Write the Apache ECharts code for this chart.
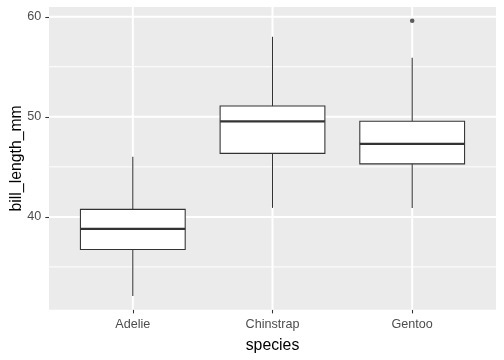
<!DOCTYPE html>
<html>
<head>
<meta charset="utf-8">
<script src="https://cdn.jsdelivr.net/npm/echarts@6/dist/echarts.min.js"></script>
<style>html,body{margin:0;padding:0;background:#fff;}#c{width:504px;height:360px;}</style>
</head>
<body>
<div id="c"></div>
<script>
// Data
const categories = ['Adelie', 'Chinstrap', 'Gentoo'];
const lowerWhisker = [32.1, 40.9, 40.9];
const q1 = [36.75, 46.35, 45.3];
const median = [38.8, 49.55, 47.3];
const q3 = [40.75, 51.075, 49.55];
const upperWhisker = [46.0, 58.0, 55.9];
const outlierSpecies = ['Gentoo'];
const outlierValues = [59.6];
const yMajorTicks = [40, 50, 60];
const yMinorTicks = [35, 45, 55];

const FONT = 'Liberation Sans, Arial, sans-serif';
const INK = '#333333';

const xPos = categories.map((c, i) => i + 1);
const boxData = categories.map((c, i) => [xPos[i], lowerWhisker[i], q1[i], median[i], q3[i], upperWhisker[i]]);
const outlierData = outlierSpecies.map((s, i) => [categories.indexOf(s) + 1, outlierValues[i]]);

const gridLineData = [];
yMinorTicks.forEach(v => gridLineData.push(['y', v, 1]));
yMajorTicks.forEach(v => gridLineData.push(['y', v, 2]));
xPos.forEach(v => gridLineData.push(['x', v, 2]));

const chart = echarts.init(document.getElementById('c'), null, {renderer: 'canvas'});
chart.setOption({
  animation: false,
  backgroundColor: '#ffffff',
  grid: {left: 49, top: 7, right: 8, bottom: 50.3, show: true, backgroundColor: '#EBEBEB', borderWidth: 0,
    containLabel: false, outerBoundsMode: 'none'},
  xAxis: {
    type: 'value', min: 0.4, max: 3.6,
    name: 'species', nameLocation: 'middle', nameGap: 28, nameMoveOverlap: false,
    nameTextStyle: {color: '#000', fontSize: 15.8, fontFamily: FONT},
    axisLine: {show: false},
    axisTick: {show: true, customValues: xPos, length: 3.7, lineStyle: {color: INK, width: 1.07}},
    axisLabel: {customValues: xPos, color: '#4D4D4D', fontSize: 12.6, fontFamily: FONT, margin: 8.5,
      formatter: v => categories[Math.round(v) - 1] || ''},
    splitLine: {show: false}
  },
  yAxis: {
    type: 'value', min: 30.725, max: 60.975,
    name: 'bill_length_mm', nameLocation: 'middle', nameGap: 24.5, nameMoveOverlap: false,
    nameTextStyle: {color: '#000', fontSize: 15.8, fontFamily: FONT},
    axisLine: {show: false},
    axisTick: {show: true, customValues: yMajorTicks, length: 3.7, lineStyle: {color: INK, width: 1.07}},
    axisLabel: {customValues: yMajorTicks, color: '#4D4D4D', fontSize: 12.6, fontFamily: FONT, margin: 7.7},
    splitLine: {show: false}
  },
  series: [
    {
      type: 'custom', z: 1, silent: true,
      data: gridLineData,
      encode: {x: -1, y: -1},
      renderItem: function (params, api) {
        const d = gridLineData[params.dataIndex];
        const cs = params.coordSys;
        let shape;
        if (d[0] === 'y') {
          const p = api.coord([1, d[1]]);
          shape = {x1: cs.x, y1: p[1], x2: cs.x + cs.width, y2: p[1]};
        } else {
          const p = api.coord([d[1], 45]);
          shape = {x1: p[0], y1: cs.y, x2: p[0], y2: cs.y + cs.height};
        }
        return {type: 'line', shape: shape, style: {stroke: '#ffffff', lineWidth: d[2]}};
      }
    },
    {
      type: 'custom', z: 3, silent: true,
      data: boxData,
      encode: {x: 0, y: [1, 2, 3, 4, 5]},
      renderItem: function (params, api) {
        const x = api.value(0);
        const lo = api.value(1), a = api.value(2), m = api.value(3), b = api.value(4), hi = api.value(5);
        const hw = 0.375;
        const tl = api.coord([x - hw, b]);
        const br = api.coord([x + hw, a]);
        const c = api.coord([x, 0]);
        const yHi = api.coord([x, hi])[1], yLo = api.coord([x, lo])[1], yM = api.coord([x, m])[1];
        const st = {stroke: INK, lineWidth: 1.07, fill: null};
        return {type: 'group', children: [
          {type: 'line', shape: {x1: c[0], y1: tl[1], x2: c[0], y2: yHi}, style: st},
          {type: 'line', shape: {x1: c[0], y1: br[1], x2: c[0], y2: yLo}, style: st},
          {type: 'rect', shape: {x: tl[0], y: tl[1], width: br[0] - tl[0], height: br[1] - tl[1]},
            style: {stroke: INK, lineWidth: 1.07, fill: '#ffffff'}},
          {type: 'line', shape: {x1: tl[0], y1: yM, x2: br[0], y2: yM}, style: {stroke: INK, lineWidth: 2.13}}
        ]};
      }
    },
    {
      type: 'scatter', z: 4, silent: true,
      data: outlierData,
      symbol: 'circle', symbolSize: 4.5,
      itemStyle: {color: INK}
    }
  ]
});
</script>
</body>
</html>
